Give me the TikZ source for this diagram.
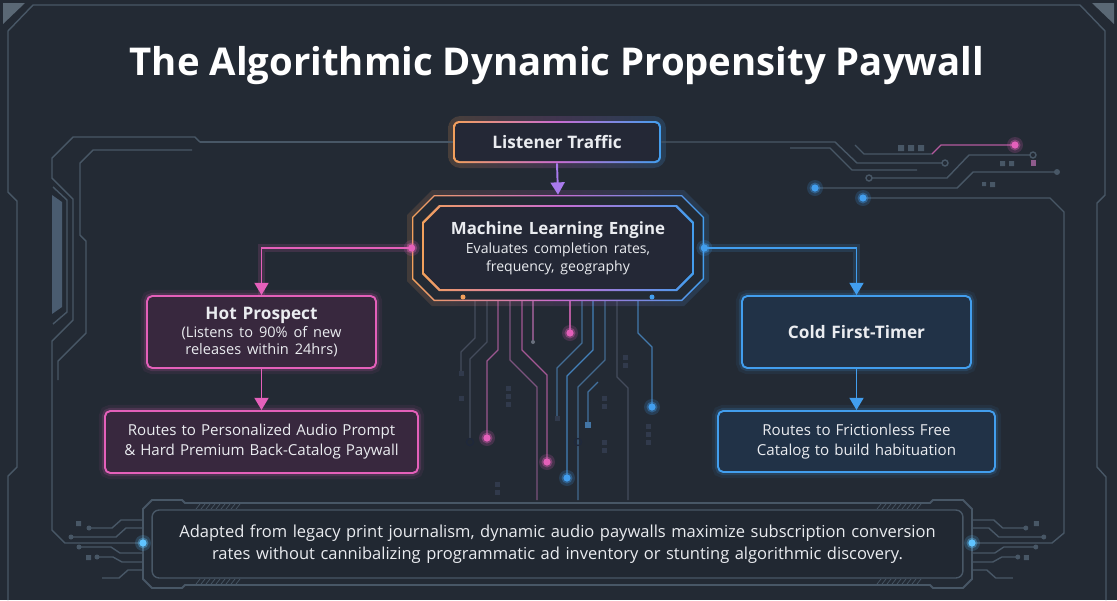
\documentclass[tikz,border=0pt]{standalone}
\usepackage{fontspec}
\setmainfont{Open Sans}
\usetikzlibrary{arrows.meta, positioning, calc}
\definecolor{bgc}{RGB}{35,42,52}
\definecolor{linec}{RGB}{72,87,102}
\definecolor{tracec}{RGB}{68,76,92}
\definecolor{barc}{RGB}{74,92,112}
\definecolor{inkc}{RGB}{234,236,240}
\definecolor{orangec}{RGB}{242,160,92}
\definecolor{pinkc}{RGB}{228,96,186}
\definecolor{purplec}{RGB}{168,122,236}
\definecolor{bluec}{RGB}{66,158,238}
\definecolor{cyanc}{RGB}{96,196,255}
\definecolor{hotfill}{RGB}{56,40,62}
\definecolor{coldfill}{RGB}{33,50,71}
\definecolor{mlfill}{RGB}{36,40,54}
\definecolor{notefill}{RGB}{33,40,50}
\tikzset{
  box/.style={rectangle, rounded corners=3pt, line width=1.1pt, align=center,
              text=inkc, inner sep=0pt},
  glow/.style={preaction={draw=#1, line width=7pt, opacity=.07},
               preaction={draw=#1, line width=3.6pt, opacity=.16}},
  hotbox/.style={box, draw=pinkc, fill=hotfill, glow=pinkc},
  coldbox/.style={box, draw=bluec, fill=coldfill, glow=bluec},
  heat/.style={left color=orangec, right color=bluec, middle color=pinkc!55!purplec},
  rim/.style={rectangle, rounded corners=3.5pt, heat, inner sep=0pt},
  headf/.style={font=\fontsize{9.8}{12}\selectfont\bfseries},
  arr/.style={-{Triangle[length=7pt, width=8pt]}, line width=1.1pt},
  frame/.style={draw=linec, line width=0.8pt},
  trace/.style={line width=0.7pt},
}
% octagon path: centre x, centre y, half width, half height, cut
\newcommand{\octo}[5]{({#1-#3+#5},{#2-#4}) -- ({#1+#3-#5},{#2-#4})
  -- ({#1+#3},{#2-#4+#5}) -- ({#1+#3},{#2+#4-#5}) -- ({#1+#3-#5},{#2+#4})
  -- ({#1-#3+#5},{#2+#4}) -- ({#1-#3},{#2+#4-#5}) -- ({#1-#3},{#2-#4+#5}) -- cycle}
% glowing end of a wire
\newcommand{\spark}[2]{%
  \fill[#2, opacity=.18] (#1) circle (8);
  \fill[#2, opacity=.35] (#1) circle (5.5);
  \fill[#2] (#1) circle (3.6);}
% small wires on one side of the footer box
\newcommand{\sidewires}{%
  \draw[frame] (143,520) -- (121,520) -- (112,528) -- (91,528);
  \draw[frame] (143,528) -- (126,528) -- (116,537) -- (73,537);
  \draw[frame] (143,553) -- (120,553) -- (111,547) -- (81,547);
  \draw[frame] (143,562) -- (122,562) -- (113,557) -- (99,557);
  \draw[frame] (143,570) -- (128,570) -- (119,578) -- (102,578);
  \fill[linec] (89,528) circle (2.5) (71,537) circle (2.5) (79,547) circle (2.5)
    (97,557) circle (2.5);
  \fill[linec] (76,521) rectangle (81,526) (86,555) rectangle (91,560);}

\begin{document}
\begin{tikzpicture}[x=0.02cm, y=-0.02cm]
  \fill[bgc] (0,0) rectangle (1117,600);
  \useasboundingbox (0,0) rectangle (1117,600);

  % outer frame
  \draw[frame] (8,600) -- (8,476) -- (17,467) -- (17,201) -- (8,192) -- (8,31)
    -- (33,5) -- (1080,5) -- (1105,31) -- (1105,195) -- (1097,203) -- (1097,467)
    -- (1106,477) -- (1106,600);
  \fill[linec!90] (3,3) -- (25,3) -- (3,24) -- cycle;
  \fill[linec!90] (1092,3) -- (1114,3) -- (1114,24) -- cycle;
  \fill[barc] (52,195) -- (62,202) -- (62,307) -- (52,314) -- cycle;
  \draw[frame] (53,187) -- (67,200) -- (67,312) -- (53,324);

  \node[font=\fontsize{21.8}{26}\selectfont\bfseries, text=white] (title) at (557,66)
    {The Algorithmic Dynamic Propensity Paywall};

  % circuit traces
  \draw[frame] (200,142) -- (195,137) -- (73,137) -- (52,158) -- (52,178)
    -- (73,199) -- (73,320) -- (52,341) -- (52,530) -- (65,543) -- (143,543);
  \draw[frame] (192,150) -- (93,150) -- (80,163) -- (80,235) -- (86,241) -- (86,333)
    -- (58,361) -- (58,380);
  \draw[frame] (790,148) -- (830,148) -- (852,170) -- (917,170);
  \draw[frame] (855,145) -- (864,154) -- (932,154);
  \draw[trace, draw=pinkc!70!tracec] (932,154) -- (941,145) -- (1012,145);
  \draw[frame] (872,178) -- (947,178) -- (969,155) -- (1030,155);
  \draw[frame] (869,178) circle (3) (1033,155) circle (3);
  \draw[frame] (815,188) -- (957,188) -- (973,172) -- (1057,172);
  \fill[linec] (1057,172) circle (3);
  \draw[frame] (863,198) -- (1050,198) -- (1064,212) -- (1064,533) -- (1052,543)
    -- (972,543);
  \fill[linec] (898,145) rectangle (904,151) (908,145) rectangle (914,151)
    (918,145) rectangle (924,151) (1000,161) rectangle (1005,166)
    (1009,161) rectangle (1014,166) (982,182) rectangle (986,186)
    (990,182) rectangle (995,187);
  \fill[pinkc!45!linec] (1031,160) rectangle (1036,166);

  \foreach \xa/\yb/\xb/\ye/\tc in {475/338/461/372/tracec, 487/342/470/439/tracec,
      498/350/487/438/pinkc!55!tracec, 510/360/537/500/pinkc!35!tracec,
      522/350/547/462/pinkc!60!tracec, 582/343/557/418/bluec!40!tracec,
      593/350/567/478/bluec!65!tracec, 605/360/578/500/bluec!35!tracec,
      617/377/628/500/tracec, 638/333/652/407/bluec!55!tracec}
    \draw[trace, draw=\tc] (\xa,300) -- (\xa,\yb) -- (\xb,{\yb+abs(\xb-\xa)}) -- (\xb,\ye);
  \draw[trace, draw=pinkc!40!tracec] (533,300) -- (533,342);
  \draw[trace, draw=pinkc!70!tracec] (570,300) -- (570,333);
  \draw[trace, draw=bluec!45!tracec] (598,382) -- (588,392) -- (588,424);
  \fill[tracec!80] (533,342) circle (2);
  \draw[trace, draw=tracec!120] (470,442) circle (3.5) (578,442) circle (3.5);
  \foreach \x/\y in {461/373, 508/388, 508/396, 508/404, 461/398, 625/357, 625/365,
      604/398, 604/406, 648/426, 648/434, 648/442, 604/442, 604/450, 497/484,
      497/492, 557/418}
    \fill[tracec!110] (\x-2.5,\y-2.5) rectangle (\x+2.5,\y+2.5);
  \fill[bluec!50!tracec] (585,422) rectangle (591,428);

  % footer box
  \sidewires
  \begin{scope}[xshift=22.3cm, xscale=-1]
    \sidewires
  \end{scope}
  \draw[frame, line width=1.1pt, fill=bgc] (152,500) -- (182,500) -- (185,503)
    -- (930,503) -- (933,500) -- (963,500) -- (972,509) -- (972,579) -- (963,588)
    -- (933,588) -- (930,585) -- (185,585) -- (182,588) -- (152,588) -- (143,579)
    -- (143,509) -- cycle;
  \foreach \x in {196,201,...,236} {
    \draw[linec] (\x,509) -- (\x+4,504);
    \draw[linec] (\x,584) -- (\x+4,579);
    \draw[linec] (\x+681,509) -- (\x+685,504);
    \draw[linec] (\x+681,584) -- (\x+685,579);
  }
  \node[box, draw=linec, fill=notefill, line width=0.8pt, rounded corners=4pt,
        minimum width=16.22cm, minimum height=1.36cm, text width=15.8cm,
        font=\fontsize{9.4}{12.5}\selectfont] (note) at (557.5,544)
    {Adapted from legacy print journalism, dynamic audio paywalls maximize subscription conversion\\
     rates without cannibalizing programmatic ad inventory or stunting algorithmic discovery.};
  \spark{143,543}{cyanc}
  \spark{972,543}{cyanc}

  % top of the flow
  \node[rim, minimum width=4.36cm, minimum height=1.04cm, rounded corners=7pt,
        opacity=.18] (trafficglow) at (557,142) {};
  \node[rim, minimum width=4.16cm, minimum height=0.84cm] (trafficrim) at (557,142) {};
  \node[box, fill=mlfill, minimum width=4.08cm, minimum height=0.76cm,
        rounded corners=2.5pt, headf] (traffic) at (557,142) {Listener Traffic};

  \shade[heat, opacity=.15] \octo{558}{248}{151}{58}{25};
  \shade[heat] \octo{558}{248}{146}{53}{22};
  \fill[bgc] \octo{558}{248}{144.6}{51.6}{21.4};
  \shade[heat] \octo{558}{248}{136}{43}{17};
  \fill[mlfill] \octo{558}{248}{133.8}{40.8}{16.1};
  \node[minimum width=5.84cm, minimum height=2.12cm, inner sep=0pt] (mlframe)
    at (558,248) {};
  \node[text width=4.8cm, align=center, text=inkc, inner sep=0pt] (ml) at (558,248)
    {{\fontsize{9.6}{12}\selectfont\bfseries Machine Learning Engine\par}
     \vspace{1pt}
     {\fontsize{8}{10}\selectfont Evaluates completion rates,\\ frequency, geography\par}};

  % the two paths
  \node[hotbox, minimum width=4.58cm, minimum height=1.44cm, text width=4.3cm]
    (hot) at (261.5,332)
    {{\fontsize{9.8}{12}\selectfont\bfseries Hot Prospect\par}
     {\fontsize{8.3}{10}\selectfont (Listens to 90\% of new\\ releases within 24hrs)\par}};
  \node[hotbox, minimum width=6.26cm, minimum height=1.24cm, text width=6cm,
        font=\fontsize{8.6}{11.4}\selectfont] (routesl) at (261.5,442)
    {Routes to Personalized Audio Prompt\\ \& Hard Premium Back-Catalog Paywall};

  \node[coldbox, minimum width=4.58cm, minimum height=1.44cm, text width=4.3cm,
        headf] (cold) at (856.5,332) {Cold First-Timer};
  \node[coldbox, minimum width=5.54cm, minimum height=1.22cm, text width=5.3cm,
        font=\fontsize{8.6}{11.4}\selectfont] (routesr) at (856.5,441.5)
    {Routes to Frictionless Free\\ Catalog to build habituation};

  % connectors
  \draw[frame] (trafficrim.west) -- (200,142);
  \draw[frame] (trafficrim.east) -- (835,142) -- (857,163) -- (942,163);
  \draw[frame] (945,163) circle (3);
  \draw[arr, draw=purplec] (trafficrim.south) -- (mlframe.north);
  \draw[arr, draw=pinkc, preaction={-, draw=pinkc, line width=4pt, opacity=.15}]
    (mlframe.west) -| (hot.north);
  \draw[arr, draw=bluec, preaction={-, draw=bluec, line width=4pt, opacity=.15}]
    (mlframe.east) -| (cold.north);
  \draw[arr, draw=pinkc] (hot.south) -- (routesl.north);
  \draw[arr, draw=bluec] (cold.south) -- (routesr.north);

  % lights
  \spark{mlframe.west}{pinkc}
  \spark{mlframe.east}{bluec}
  \fill[orangec] (463,297) circle (2.5);
  \fill[bluec] (652,297) circle (2.5);
  \foreach \x/\y/\c in {487/438/pinkc, 547/462/pinkc, 570/333/pinkc,
      567/478/bluec, 652/407/bluec, 1015/145/pinkc, 815/188/bluec, 863/198/bluec}
    \spark{\x,\y}{\c};
\end{tikzpicture}
\end{document}
